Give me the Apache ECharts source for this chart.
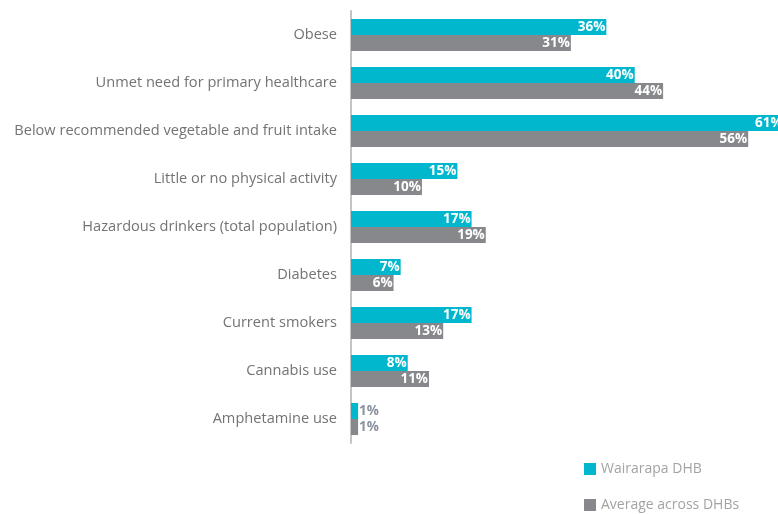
<!DOCTYPE html>
<html><head><meta charset="utf-8">
<script src="https://cdn.jsdelivr.net/npm/echarts@6/dist/echarts.min.js"></script>
<style>html,body{margin:0;padding:0;background:#fff}#c{width:778px;height:514px}</style>
</head><body><div id="c"></div>
<script>
const categories = ["Obese","Unmet need for primary healthcare","Below recommended vegetable and fruit intake","Little or no physical activity","Hazardous drinkers (total population)","Diabetes","Current smokers","Cannabis use","Amphetamine use"];
const wairarapa = [36,40,61,15,17,7,17,8,1];
const average = [31,44,56,10,19,6,13,11,1];
const seriesNames = ["Wairarapa DHB","Average across DHBs"];
const colors = ["#00b7cd","#87888b"];

function toData(arr){
  return arr.map(v => v < 3 ? {value:v,label:{position:'right',distance:1,color:'#8b93a0'}} : v);
}
const chart = echarts.init(document.getElementById('c'));
const font = "'Open Sans', sans-serif";
chart.setOption({
  animation:false,
  textStyle:{fontFamily:font},
  grid:{left:351,right:0,top:11,height:432},
  xAxis:{type:'value',min:0,max:60.2,show:false},
  yAxis:{type:'category',data:categories,inverse:true,
    axisLine:{lineStyle:{color:'#c4c4c4',width:2}},axisTick:{show:false},
    axisLabel:{color:'#737373',fontSize:14.6,margin:14,fontFamily:font}},
  legend:{orient:'vertical',left:584,top:462,padding:0,itemWidth:12,itemHeight:12,itemGap:22,icon:'rect',
    textStyle:{color:'#a3a3a3',fontSize:14,fontFamily:font},data:seriesNames},
  series:[
    {name:seriesNames[0],type:'bar',data:toData(wairarapa),barWidth:16,barGap:'0%',clip:false,itemStyle:{color:colors[0]},
     label:{show:true,position:'insideRight',distance:1,formatter:'{c}%',color:'#fff',fontWeight:'bold',fontSize:13.5,fontFamily:font}},
    {name:seriesNames[1],type:'bar',data:toData(average),barWidth:16,clip:false,itemStyle:{color:colors[1]},
     label:{show:true,position:'insideRight',distance:1,formatter:'{c}%',color:'#fff',fontWeight:'bold',fontSize:13.5,fontFamily:font}}
  ]
});
</script></body></html>
